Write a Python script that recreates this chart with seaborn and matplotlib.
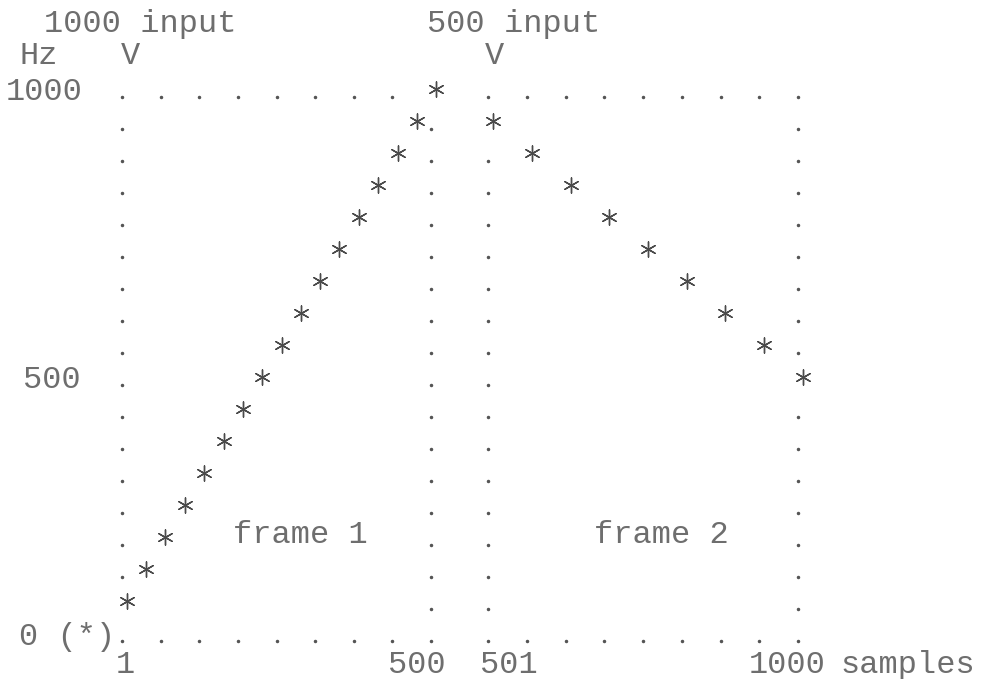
import numpy as np
import pandas as pd
import seaborn as sns
import matplotlib.pyplot as plt
from matplotlib.transforms import ScaledTranslation, offset_copy

# 1. Data (frequency in Hz per sample number)
frame1_samples = [1, 32, 63, 95, 126, 157, 188, 219, 251, 282, 313, 344, 376, 407, 438, 469, 500]
frame1_hz = [59, 118, 176, 235, 294, 353, 412, 471, 529, 588, 647, 706, 765, 824, 882, 941, 1000]
frame2_samples = [501, 563, 626, 688, 751, 813, 875, 938, 1000]
frame2_hz = [941, 882, 824, 765, 706, 647, 588, 529, 471]

frame_ranges = [(1, 500), (501, 1000)]
frame_names = ['frame 1', 'frame 2']
input_labels = ['1000 input', '500 input']
x_ticklabels = [['1', '500'], ['501', '1000']]
y_ticks = [0, 500, 1000]
y_ticklabels = ['0 (*)', '500', '1000']
n_rows = 17  # printer lines between 0 and 1000 Hz
n_cols = 17  # printer columns across one frame

# 2. Style: white page, dot-matrix like monospace text
sns.set_style('white')
plt.rcParams['font.family'] = ['Liberation Mono', 'DejaVu Sans Mono']
ink = '#6e6e6e'
fs = 23

W, H = 984, 679
fig = plt.figure(figsize=(W / 100, H / 100), dpi=100)


def box(x0, x1, y0, y1):
    # pixel box -> figure fraction [left, bottom, width, height]
    return [x0 / W, 1 - y1 / H, (x1 - x0) / W, (y1 - y0) / H]


def nudge(label, dx):
    label.set_transform(label.get_transform() + ScaledTranslation(dx / 100, 0, fig.dpi_scale_trans))


ax1 = fig.add_axes(box(127, 436, 89, 633))
ax2 = fig.add_axes(box(493, 803, 89, 633))
axes = [ax1, ax2]
frames = [
    pd.DataFrame({'sample': frame1_samples, 'hz': frame1_hz}),
    pd.DataFrame({'sample': frame2_samples, 'hz': frame2_hz}),
]

step = 1000 / n_rows
for ax, df, (lo, hi) in zip(axes, frames, frame_ranges):
    cols = np.linspace(lo, hi, n_cols)
    rows = np.linspace(0, 1000, n_rows + 1)

    # dotted frame border, skipping cells where a star is printed
    taken = {(int(np.abs(cols - s).argmin()), int(np.abs(rows - f).argmin()))
             for s, f in zip(df['sample'], df['hz'])}
    cells = [(c, r) for c in range(0, n_cols, 2) for r in (0, n_rows)]
    cells += [(c, r) for c in (0, n_cols - 1) for r in range(1, n_rows)]
    cells = [cr for cr in cells if cr not in taken]
    ax.plot([cols[c] for c, r in cells], [rows[r] for c, r in cells], ls='none',
            marker='o', ms=1.5, color='#555555', clip_on=False,
            transform=offset_copy(ax.transData, fig=fig, x=-5, y=-8, units='dots'))

    sns.scatterplot(data=df, x='sample', y='hz', ax=ax, marker=(6, 2, 0), s=120,
                    color='#4a4a4a', linewidth=1.0, clip_on=False, legend=False)

    ax.set_xlim(lo, hi)
    ax.set_ylim(0, 1000)
    ax.set_xlabel('')
    ax.set_ylabel('')
    sns.despine(ax=ax, left=True, bottom=True)

# 3. Ticks printed as text on the character grid
ax1.set_xticks(frame_ranges[0], x_ticklabels[0])
ax2.set_xticks(frame_ranges[1], x_ticklabels[1])
ax1.set_yticks([round(v / step) * step for v in y_ticks], y_ticklabels)
ax2.set_yticks([])
for ax in axes:
    ax.tick_params(length=0, labelsize=fs, labelcolor=ink)
    ax.tick_params(axis='x', pad=23)
ax1.tick_params(axis='y', pad=54)

for ax, shifts in zip(axes, [[-2, -19], [16, -16]]):
    for lbl, dx in zip(ax.get_xticklabels(), shifts):
        lbl.set_ha('center')
        lbl.set_va('center')
        nudge(lbl, dx)
for lbl, dx in zip(ax1.get_yticklabels(), [15, 0, -8]):
    lbl.set_ha('center')
    nudge(lbl, dx)

# 4. Header and frame annotations
texts = [
    (140, 24, input_labels[0]), (514, 24, input_labels[1]),
    (39, 56, 'Hz'), (130, 56, 'V'), (494, 56, 'V'),
    (300, 535, frame_names[0]), (661, 535, frame_names[1]),
    (908, 665, 'samples'),
]
for x, y, s in texts:
    fig.text(x / W, 1 - y / H, s, ha='center', va='center', fontsize=fs, color=ink)

plt.savefig('out.png', dpi=100, facecolor='white')
